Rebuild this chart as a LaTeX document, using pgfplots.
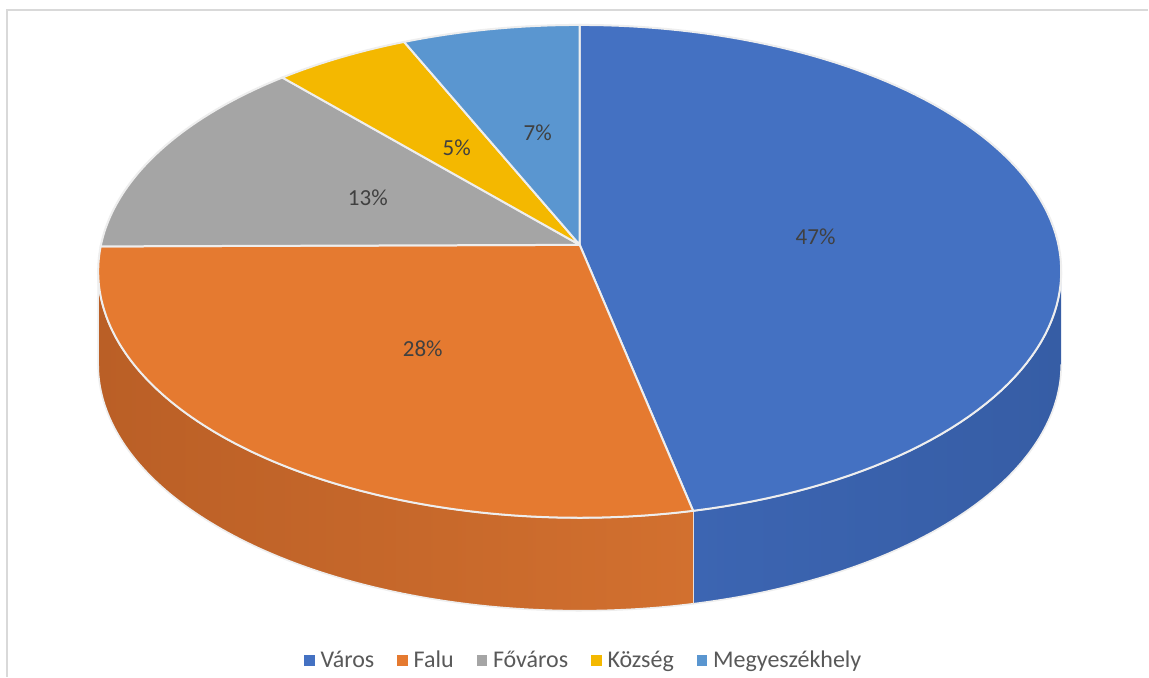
\documentclass[border=0pt]{standalone}
\usepackage{pgfplots}
\pgfplotsset{compat=1.18}
\usepackage{pgfplotstable}
\usepackage{fontspec}
\setmainfont{Carlito}

\definecolor{cVaros}{HTML}{4471C2}
\definecolor{cFalu}{HTML}{E57A30}
\definecolor{cFov}{HTML}{A5A5A5}
\definecolor{cKoz}{HTML}{F4B800}
\definecolor{cMegye}{HTML}{5A96D0}
\definecolor{edge}{HTML}{EEEEEE}
\definecolor{lbl}{HTML}{404040}
\definecolor{leg}{HTML}{595959}
\definecolor{frame}{HTML}{D9D9D9}
\definecolor{sideBL}{RGB}{60,101,178}
\definecolor{sideBR}{RGB}{54,93,165}
\definecolor{sideOL}{RGB}{186,95,38}
\definecolor{sideOR}{RGB}{210,112,47}

\pgfplotstableread{
name value
Varos 46.6
Falu 28.3
Fovaros 13.4
Kozseg 5.1
Megye 6.6
}\piedata

\pgfplotstablegetelem{0}{value}\of\piedata \let\vA\pgfplotsretval
\pgfplotstablegetelem{1}{value}\of\piedata \let\vB\pgfplotsretval
\pgfplotstablegetelem{2}{value}\of\piedata \let\vC\pgfplotsretval
\pgfplotstablegetelem{3}{value}\of\piedata \let\vD\pgfplotsretval
\pgfplotstablegetelem{4}{value}\of\piedata \let\vE\pgfplotsretval

\pgfmathsetmacro\aA{0}
\pgfmathsetmacro\aB{3.6*\vA}
\pgfmathsetmacro\aC{\aB+3.6*\vB}
\pgfmathsetmacro\aD{\aC+3.6*\vC}
\pgfmathsetmacro\aE{\aD+3.6*\vD}
\pgfmathsetmacro\aF{\aE+3.6*\vE}

\begin{document}
\begin{tikzpicture}
\begin{axis}[
  width=574.5pt, height=338.5pt, scale only axis,
  xmin=0, xmax=1149, ymin=0, ymax=677,
  hide axis, clip=false,
  declare function={
    px(\t)=580+479*sin(\t)/(1+0.1075*cos(\t));
    py(\t)=432+243.7*cos(\t)/(1+0.1075*cos(\t));
    wa(\s,\a,\b)=\a+(\b-\a)*\s/100;
    sa(\s,\a,\b)=(\s<=101) ? (\a+(\b-\a)*min(\s,100)/100) : (\b-(\b-\a)*(\s-102)/100);
    so(\s)=(\s<=101) ? 0 : 93;
    out(\s)=(\s<-0.5 || \s>100.5) ? 1 : 0;
  },
  legend columns=-1,
  legend style={at={(0.51,0.024)}, anchor=center, draw=none, fill=none,
    font=\fontsize{12}{14}\selectfont, text=leg,
    /tikz/every even column/.append style={column sep=8.5pt},
    nodes={inner sep=1.5pt, inner xsep=3pt}},
  legend image code/.code={\path[#1, draw=none] (0pt,-2.6pt) rectangle (5.2pt,2.6pt);},
]
% background / bounding box
\path[fill=white] (axis cs:0,0) rectangle (axis cs:1149,677);
\draw[frame, line width=0.6pt] (axis cs:7,0) -- (axis cs:7,667) -- (axis cs:1149,667);

% sides
\addplot[forget plot, draw=edge, line width=0.8pt, domain=0:202, samples=203,
  left color=sideBL, right color=sideBR]
  ({px(sa(x,96.17,\aB))}, {py(sa(x,96.17,\aB))-so(x)});
\addplot[forget plot, draw=edge, line width=0.8pt, domain=0:202, samples=203,
  left color=sideOL, right color=sideOR]
  ({px(sa(x,\aB,263.83))}, {py(sa(x,\aB,263.83))-so(x)});

% top wedges
\addplot[fill=cVaros, draw=edge, line width=1pt, domain=-1:101, samples=103]
  ({out(x)==1 ? 580 : px(wa(x,\aA,\aB))}, {out(x)==1 ? 432 : py(wa(x,\aA,\aB))});
\addlegendentry{Város}
\addplot[fill=cFalu, draw=edge, line width=1pt, domain=-1:101, samples=103]
  ({out(x)==1 ? 580 : px(wa(x,\aB,\aC))}, {out(x)==1 ? 432 : py(wa(x,\aB,\aC))});
\addlegendentry{Falu}
\addplot[fill=cFov, draw=edge, line width=1pt, domain=-1:101, samples=103]
  ({out(x)==1 ? 580 : px(wa(x,\aC,\aD))}, {out(x)==1 ? 432 : py(wa(x,\aC,\aD))});
\addlegendentry{Főváros}
\addplot[fill=cKoz, draw=edge, line width=1pt, domain=-1:101, samples=103]
  ({out(x)==1 ? 580 : px(wa(x,\aD,\aE))}, {out(x)==1 ? 432 : py(wa(x,\aD,\aE))});
\addlegendentry{Község}
\addplot[fill=cMegye, draw=edge, line width=1pt, domain=-1:101, samples=103]
  ({out(x)==1 ? 580 : px(wa(x,\aE,\aF))}, {out(x)==1 ? 432 : py(wa(x,\aE,\aF))});
\addlegendentry{Megyeszékhely}

% data labels
\begin{scope}[every node/.style={font=\fontsize{11.5}{13}\selectfont, text=lbl}]
\node at (axis cs:816,440) {47\%};
\node at (axis cs:423,328) {28\%};
\node at (axis cs:368,479) {13\%};
\node at (axis cs:457,529) {5\%};
\node at (axis cs:538,544) {7\%};
\end{scope}
\end{axis}
\end{tikzpicture}
\end{document}
